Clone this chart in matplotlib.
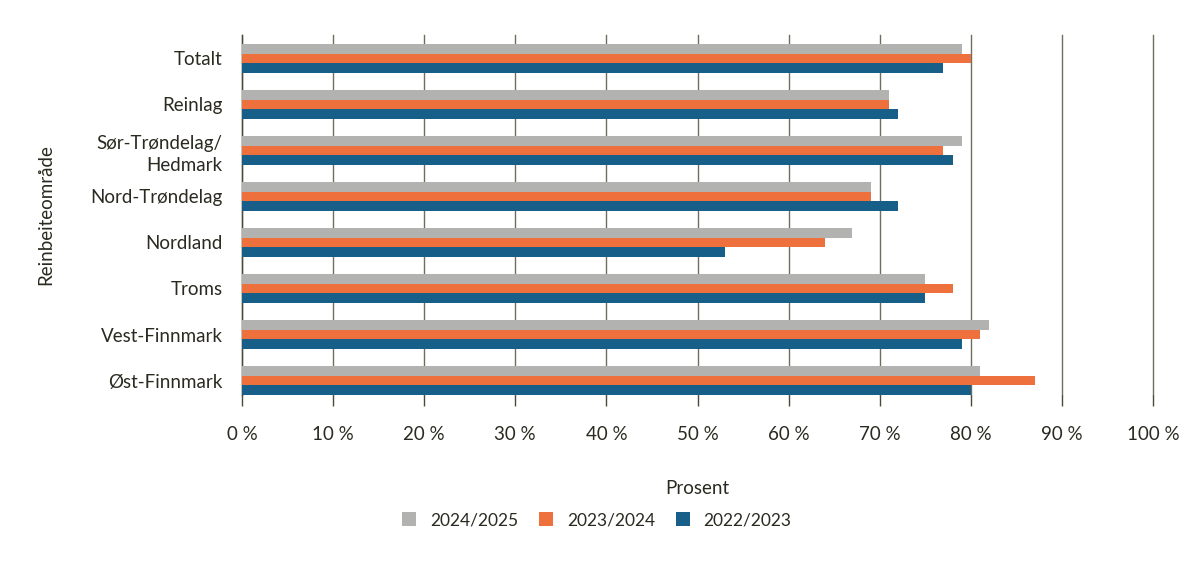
import matplotlib
matplotlib.use("Agg")
import matplotlib.pyplot as plt
import numpy as np

categories = ["Totalt", "Reinlag", "Sør-Trøndelag/\nHedmark", "Nord-Trøndelag",
              "Nordland", "Troms", "Vest-Finnmark", "Øst-Finnmark"]
s2024_2025 = [79, 71, 79, 69, 67, 75, 82, 81]
s2023_2024 = [80, 71, 77, 69, 64, 78, 81, 87]
s2022_2023 = [77, 72, 78, 72, 53, 75, 79, 80]
series_labels = ["2024/2025", "2023/2024", "2022/2023"]
colors = ["#b2b2b1", "#ee703c", "#175e89"]
xticks = list(range(0, 101, 10))
xticklabels = [f"{v} %" for v in xticks]

plt.rcParams['font.family'] = ['Lato', 'DejaVu Sans']
text_color = "#2b2a20"
fs = 13.5

fig = plt.figure(figsize=(11.98, 5.68), dpi=100)
ax = fig.add_axes([242/1198, 1-395/568, (1153-242)/1198, 360/568])

y = np.arange(len(categories))
h = 0.21
for k, (vals, lab, c) in enumerate(zip([s2024_2025, s2023_2024, s2022_2023], series_labels, colors)):
    ax.barh(y + (k-1)*h, vals, height=h, color=c, label=lab, zorder=3)

ax.set_ylim(len(categories)-1+0.315, -0.51)
ax.set_xlim(0, 100)
ax.set_yticks(y)
ax.set_yticklabels(categories, fontsize=fs, color=text_color, linespacing=1.35)
ax.set_xticks(xticks)
ax.set_xticklabels(xticklabels, fontsize=fs, color=text_color)
ax.tick_params(axis='y', length=0, pad=14)
ax.tick_params(axis='x', length=8, width=1, color="#4a4a3c", pad=14, direction='out')
for s in ['top', 'right', 'bottom']:
    ax.spines[s].set_visible(False)
ax.spines['left'].set_color("#4a4a3c")
ax.spines['left'].set_linewidth(1)
ax.grid(axis='x', color="#6e6e60", linewidth=1, zorder=0)
for gl in ax.get_xgridlines():
    gl.set_clip_on(False)
ax.set_axisbelow(True)

ax.set_xlabel("Prosent", fontsize=fs, color=text_color, labelpad=27)
ax.set_ylabel("Reinbeiteområde", fontsize=fs, color=text_color, labelpad=26)

fig.legend(loc='center', bbox_to_anchor=(597/1198, 1-520/568), ncol=3, frameon=False,
           fontsize=12.5, handlelength=0.8, handleheight=0.8, columnspacing=1.2,
           handletextpad=0.8, labelcolor=text_color)

fig.savefig("out.png", dpi=100)
